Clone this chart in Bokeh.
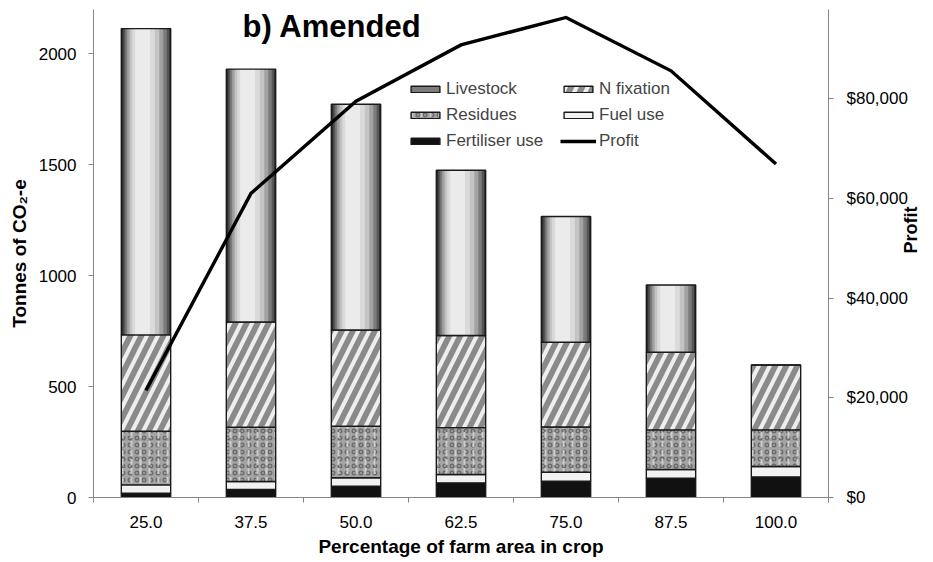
import math
import numpy as np
from bokeh.plotting import figure
from bokeh.models import (Range1d, LinearAxis, FixedTicker,
                          NumeralTickFormatter, Legend, LegendItem, Label, ColumnDataSource)
from bokeh.transform import dodge
from bokeh.embed import file_html
from bokeh.resources import INLINE

# ---- data ----
categories = ["25.0", "37.5", "50.0", "62.5", "75.0", "87.5", "100.0"]
fertiliser_use = [19, 36, 51, 66, 73, 87, 93]
fuel_use = [38, 36, 38, 38, 41, 39, 47]
residues = [242, 245, 232, 211, 204, 179, 165]
n_fixation = [434, 474, 434, 415, 382, 350, 292]
livestock = [1381, 1140, 1018, 745, 567, 303, 0]
profit = [21500, 61000, 79500, 90800, 96300, 85600, 66900]
left_ticks = [0, 500, 1000, 1500, 2000]
right_ticks = [0, 20000, 40000, 60000, 80000]

FONT = "Liberation Sans"
AXIS_GRAY = "#868686"

n_cat = len(categories)
centers = np.arange(n_cat) + 0.5          # category slots on a numeric scale
layers = np.array([fertiliser_use, fuel_use, residues, n_fixation, livestock], dtype=float)
tops = np.cumsum(layers, axis=0)
bottoms = tops - layers
names = ["fert", "fuel", "res", "nfix", "live"]
data = {"x": centers}
for i, n in enumerate(names):
    data[n + "_b"] = bottoms[i]
    data[n + "_t"] = tops[i]
src = ColumnDataSource(data)

p = figure(width=933, height=562, x_range=Range1d(0, n_cat),
           y_range=Range1d(0, 2200), output_backend="svg", toolbar_location=None,
           x_axis_location=None, y_axis_location=None,
           min_border_left=93, min_border_right=100, min_border_top=9, min_border_bottom=65)
p.extra_y_ranges = {"profit": Range1d(0, 97900)}
p.outline_line_color = None
p.grid.visible = False
p.background_fill_color = "white"

def style_axis(ax):
    ax.axis_line_color = AXIS_GRAY
    ax.major_tick_line_color = AXIS_GRAY
    ax.minor_tick_line_color = None
    ax.major_tick_in = 0
    ax.major_tick_out = 5
    ax.major_label_text_font = FONT
    ax.major_label_text_font_size = "17px"
    ax.major_label_text_color = "black"
    ax.axis_label_text_font = FONT
    ax.axis_label_text_font_style = "bold"
    ax.axis_label_text_font_size = "19px"
    ax.axis_label_text_color = "black"

yl = LinearAxis(ticker=FixedTicker(ticks=left_ticks), axis_label="Tonnes of CO\u2082-e")
style_axis(yl)
yl.major_label_standoff = 12
yl.axis_label_standoff = 6
p.add_layout(yl, "left")

yr = LinearAxis(y_range_name="profit", ticker=FixedTicker(ticks=right_ticks),
                formatter=NumeralTickFormatter(format="$0,0"), axis_label="Profit")
style_axis(yr)
yr.major_label_standoff = 13
yr.axis_label_standoff = 0
yr.axis_label_text_font_size = "18px"
yr.axis_label_orientation = math.pi / 2
p.add_layout(yr, "right")

# axis line with ticks between categories
xb = LinearAxis(ticker=FixedTicker(ticks=list(range(n_cat + 1))))
style_axis(xb)
xb.major_label_text_font_size = "0px"
xb.major_label_standoff = 0
xb.major_label_overrides = {i: "" for i in range(n_cat + 1)}
p.add_layout(xb, "below")

# category labels under each bar
xc = LinearAxis(ticker=FixedTicker(ticks=list(centers)), axis_label="Percentage of farm area in crop")
style_axis(xc)
xc.major_label_overrides = {float(c): lab for c, lab in zip(centers, categories)}
xc.axis_line_color = None
xc.major_tick_line_color = None
xc.major_tick_out = 0
xc.major_label_standoff = 13
xc.axis_label_standoff = 5
p.add_layout(xc, "below")

W = 0.47
OUT = dict(line_color="#1a1a1a", line_width=1.4)

r_fert = p.vbar(x="x", width=W, bottom="fert_b", top="fert_t", source=src,
                fill_color="#111111", **OUT)
r_fuel = p.vbar(x="x", width=W, bottom="fuel_b", top="fuel_t", source=src,
                fill_color="#f2f2f2", **OUT)
r_res1 = p.vbar(x="x", width=W, bottom="res_b", top="res_t", source=src,
                fill_color="#a4a4a4", hatch_pattern="ring", hatch_color="#646464",
                hatch_scale=7, hatch_weight=1.5, hatch_alpha=0.85, line_color=None)
r_res = p.vbar(x="x", width=W, bottom="res_b", top="res_t", source=src,
               fill_color=None, hatch_pattern=":", hatch_color="#d4d4d4",
               hatch_scale=9, hatch_weight=2, hatch_alpha=0.9, **OUT)

r_n1 = p.vbar(x="x", width=W, bottom="nfix_b", top="nfix_t", source=src,
              fill_color="#262626", hatch_pattern="/", hatch_color="#8a8a8a",
              hatch_scale=22, hatch_weight=12, line_color=None)
r_n2 = p.vbar(x="x", width=W, bottom="nfix_b", top="nfix_t", source=src,
              fill_color=None, hatch_pattern="/", hatch_color="#eeeeee",
              hatch_scale=22, hatch_weight=4, **OUT)

# livestock: cylinder-like gradient made from nested bars
grad = [(0.00, 1.00, "#2a2a2a"), (0.04, 0.97, "#555555"), (0.08, 0.92, "#7c7c7c"),
        (0.12, 0.85, "#a2a2a2"), (0.17, 0.77, "#c4c4c4"), (0.22, 0.68, "#dadada"),
        (0.28, 0.58, "#ebebeb")]
live_r = []
for l, r, c in grad:
    off = ((l + r) / 2 - 0.5) * W
    live_r.append(p.vbar(x=dodge("x", off), width=(r - l) * W,
                         bottom="live_b", top="live_t", source=src,
                         fill_color=c, line_color=None))
r_live_out = p.vbar(x="x", width=W, bottom="live_b", top="live_t", source=src,
                    fill_color=None, **OUT)

r_profit = p.line(x=centers, y=profit, y_range_name="profit", line_width=3.4,
                  line_color="black", line_join="miter")

leg_style = dict(orientation="vertical", spacing=6, padding=0, margin=0,
                 border_line_color=None, background_fill_alpha=0,
                 glyph_width=36, glyph_height=8, label_standoff=3,
                 label_text_font=FONT, label_text_font_size="17px", label_height=20)
leg1 = Legend(items=[LegendItem(label="Livestock", renderers=[live_r[2], r_live_out]),
                     LegendItem(label="Residues", renderers=[r_res1, r_res]),
                     LegendItem(label="Fertiliser use", renderers=[r_fert])],
              location=(314, 346), **leg_style)
leg2 = Legend(items=[LegendItem(label="N fixation", renderers=[r_n1, r_n2]),
                     LegendItem(label="Fuel use", renderers=[r_fuel]),
                     LegendItem(label="Profit", renderers=[r_profit])],
              location=(467, 346), **leg_style)
p.add_layout(leg1)
p.add_layout(leg2)

title = Label(x=1.42, y=2123, text="b) Amended", text_font=FONT,
              text_font_style="bold", text_font_size="31px", text_baseline="middle",
              text_align="left", text_color="black")
p.add_layout(title)

open("out.html", "w").write(file_html(p, INLINE))
